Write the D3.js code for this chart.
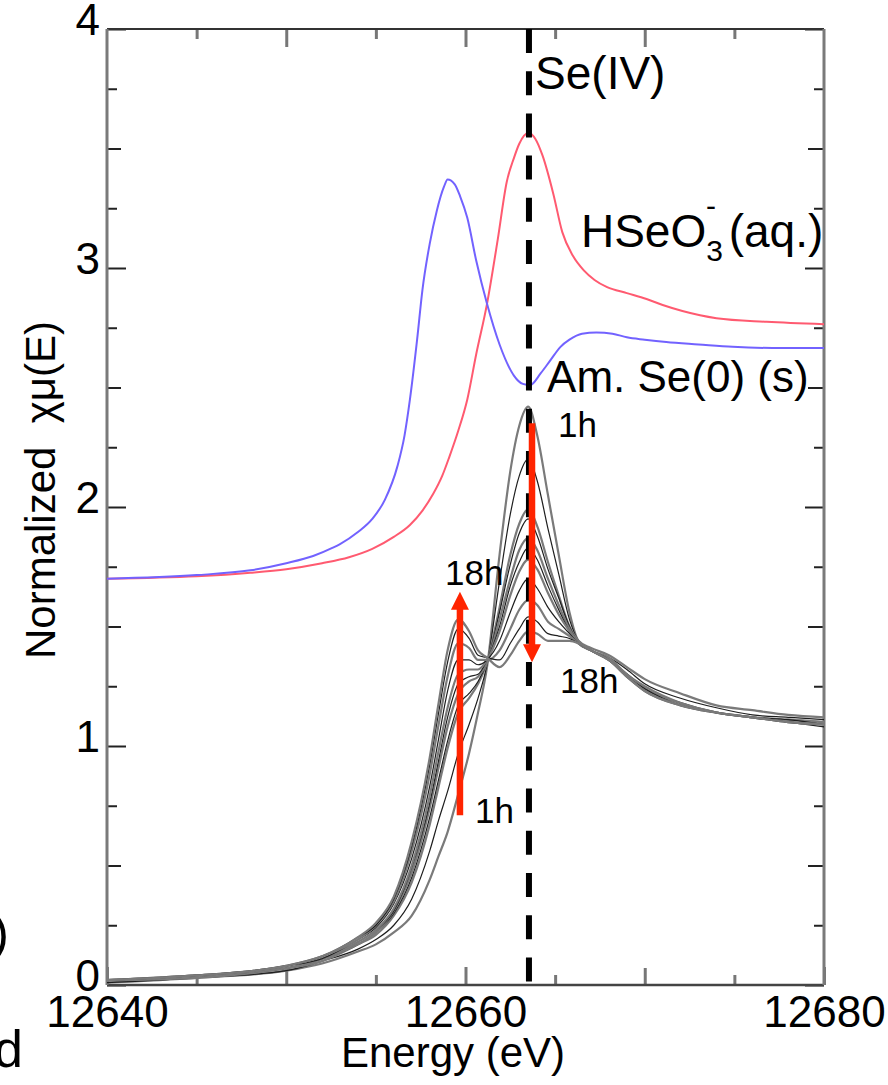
<!DOCTYPE html>
<html><head><meta charset="utf-8">
<script src="https://cdn.jsdelivr.net/npm/d3@7"></script>
<style>
body{margin:0;background:#fff}
svg{display:block}
text{font-family:"Liberation Sans",Arial,Helvetica,sans-serif;fill:#000}
</style>
</head><body><svg id="c" width="888" height="1085"></svg>
<script>
// ---------- data ----------
const xDomain = [12640, 12680];
const yDomain = [0, 4];
const xTickValues = [12640, 12660, 12680];
const xMidTicks = [12650, 12670];
const xMinorTicks = [12645, 12655, 12665, 12675];
const yTickValues = [0, 1, 2, 3, 4];
const yHalfTicks = [0.5, 1.5, 2.5, 3.5];
const yQuarterTicks = [0.25, 0.75, 1.25, 1.75, 2.25, 2.75, 3.25, 3.75];

// Am. Se(0) (s) reference (blue)
const seZeroEnergy = [12640, 12645, 12648, 12650, 12651.5, 12652.6, 12653.0, 12654.0, 12654.8, 12655.5, 12656.2, 12656.6, 12656.9, 12657.3, 12657.6, 12658.0, 12658.4, 12658.8, 12659.0, 12659.4, 12659.7, 12660.1, 12660.6, 12661.2, 12661.9, 12662.7, 12663.2, 12663.6, 12664.2, 12664.7, 12665.3, 12665.8, 12666.5, 12667.3, 12668.2, 12669.0, 12670.0, 12671.2, 12673.0, 12674.9, 12677.7, 12680];
const seZeroValues = [1.70, 1.715, 1.735, 1.765, 1.795, 1.83, 1.845, 1.895, 1.95, 2.03, 2.17, 2.30, 2.45, 2.70, 2.91, 3.10, 3.24, 3.34, 3.37, 3.35, 3.30, 3.21, 3.03, 2.85, 2.68, 2.55, 2.515, 2.51, 2.56, 2.61, 2.67, 2.70, 2.725, 2.73, 2.725, 2.71, 2.70, 2.69, 2.68, 2.67, 2.665, 2.665];

// HSeO3- (aq.) reference (red)
const hseo3Energy = [12640, 12645, 12648, 12650, 12652, 12653.5, 12654.8, 12656, 12656.9, 12657.6, 12658.2, 12658.7, 12659.1, 12659.6, 12660.1, 12660.6, 12661.2, 12661.8, 12662.3, 12662.7, 12663.0, 12663.5, 12663.9, 12664.3, 12664.9, 12665.4, 12666.0, 12666.6, 12667.2, 12667.9, 12669, 12670.1, 12671, 12672.1, 12674.0, 12676.8, 12680];
const hseo3Values = [1.70, 1.71, 1.725, 1.74, 1.765, 1.79, 1.825, 1.875, 1.925, 1.985, 2.055, 2.13, 2.21, 2.32, 2.45, 2.64, 2.85, 3.12, 3.36, 3.46, 3.52, 3.565, 3.54, 3.47, 3.31, 3.15, 3.05, 2.99, 2.95, 2.92, 2.895, 2.87, 2.845, 2.82, 2.79, 2.775, 2.765];

// time series 1h ... 18h (gray)
const timeEnergy = [12640, 12645, 12650, 12652, 12654, 12655, 12656, 12657, 12658, 12658.5, 12659, 12659.6, 12660.2, 12660.7, 12661.2, 12661.9, 12662.5, 12663, 12663.5, 12664, 12664.6, 12665.2, 12665.8, 12666.3, 12667, 12668, 12669, 12670, 12672, 12674, 12676, 12678, 12680];
const series1h  = [0.01,0.03,0.06,0.09,0.14,0.17,0.22,0.29,0.44,0.54,0.64,0.80,0.97,1.14,1.33,1.80,2.15,2.34,2.42,2.30,2.05,1.80,1.56,1.44,1.41,1.38,1.33,1.28,1.22,1.17,1.15,1.13,1.12];
const seriesT2  = [0.01,0.03,0.06,0.10,0.15,0.19,0.25,0.36,0.56,0.69,0.81,0.97,1.09,1.20,1.34,1.69,1.97,2.13,2.20,2.11,1.91,1.72,1.53,1.44,1.40,1.37,1.32,1.26,1.20,1.16,1.13,1.12,1.11];
const seriesT3  = [0.02,0.03,0.07,0.10,0.17,0.21,0.29,0.43,0.67,0.83,0.99,1.14,1.20,1.26,1.35,1.58,1.80,1.93,1.99,1.92,1.77,1.63,1.50,1.44,1.40,1.37,1.30,1.25,1.18,1.14,1.12,1.11,1.10];
const seriesT4  = [0.02,0.04,0.07,0.11,0.17,0.22,0.30,0.45,0.70,0.86,1.02,1.17,1.22,1.27,1.35,1.56,1.76,1.89,1.95,1.88,1.74,1.62,1.50,1.43,1.40,1.36,1.30,1.24,1.18,1.14,1.12,1.10,1.08];
const seriesT5  = [0.02,0.04,0.07,0.11,0.17,0.22,0.31,0.47,0.74,0.91,1.08,1.22,1.27,1.29,1.35,1.53,1.70,1.82,1.87,1.82,1.70,1.59,1.49,1.43,1.40,1.36,1.30,1.24,1.18,1.14,1.12,1.11,1.10];
const seriesT6  = [0.02,0.04,0.07,0.11,0.18,0.23,0.31,0.49,0.76,0.94,1.12,1.26,1.29,1.30,1.36,1.50,1.67,1.77,1.83,1.78,1.67,1.57,1.48,1.43,1.40,1.36,1.30,1.24,1.18,1.14,1.12,1.11,1.09];
const seriesT7  = [0.02,0.04,0.07,0.11,0.18,0.23,0.32,0.50,0.79,0.98,1.16,1.30,1.32,1.32,1.36,1.48,1.63,1.73,1.78,1.74,1.64,1.55,1.48,1.43,1.40,1.36,1.30,1.24,1.18,1.14,1.12,1.10,1.09];
const seriesT8  = [0.02,0.04,0.08,0.11,0.19,0.24,0.34,0.53,0.83,1.03,1.23,1.36,1.36,1.34,1.36,1.44,1.56,1.65,1.70,1.66,1.58,1.52,1.47,1.43,1.40,1.36,1.29,1.24,1.17,1.14,1.12,1.10,1.09];
const seriesT9  = [0.02,0.04,0.08,0.12,0.19,0.25,0.35,0.56,0.88,1.09,1.29,1.43,1.41,1.36,1.36,1.40,1.49,1.57,1.61,1.59,1.52,1.49,1.46,1.43,1.40,1.36,1.29,1.23,1.17,1.14,1.12,1.10,1.09];
const seriesT10 = [0.02,0.04,0.08,0.12,0.20,0.25,0.36,0.58,0.92,1.14,1.35,1.49,1.45,1.38,1.37,1.36,1.43,1.49,1.54,1.52,1.47,1.46,1.45,1.43,1.40,1.36,1.29,1.23,1.17,1.14,1.12,1.10,1.09];
const series18h = [0.02,0.04,0.08,0.12,0.20,0.26,0.37,0.60,0.95,1.18,1.40,1.53,1.48,1.40,1.37,1.33,1.38,1.44,1.48,1.47,1.44,1.44,1.44,1.43,1.40,1.36,1.29,1.23,1.17,1.14,1.12,1.10,1.09];
const timeSeries = [series1h, seriesT2, seriesT3, seriesT4, seriesT5, seriesT6, seriesT7, seriesT8, seriesT9, seriesT10, series18h];

// Se(IV) white line position
const seIVEnergy = 12663.54;

// arrows [energy, from, to]
const arrowUp = [12659.69, 0.71, 1.645];
const arrowDown = [12663.71, 2.35, 1.35];

// ---------- drawing ----------
const svg = d3.select("#c");
const x = d3.scaleLinear().domain(xDomain).range([107, 824]);
const y = d3.scaleLinear().domain(yDomain).range([985, 29]);

function tidy(g, color, w) {
  g.select(".domain").remove();
  g.selectAll(".tick line").attr("stroke", color).attr("stroke-width", w);
  g.selectAll(".tick text").attr("font-size", 44).attr("fill", "#000")
    .style("font-family", '"Liberation Sans",Arial,sans-serif');
}

// x axes (bottom, top)
svg.append("g").attr("transform", "translate(0,985)")
  .call(d3.axisBottom(x).tickValues(xMinorTicks).tickSize(-10).tickFormat(""))
  .call(g => tidy(g, "#777", 3));
svg.append("g").attr("transform", "translate(0,985)")
  .call(d3.axisBottom(x).tickValues(xMidTicks).tickSize(-17).tickFormat(""))
  .call(g => tidy(g, "#777", 3));
svg.append("g").attr("transform", "translate(0,985)")
  .call(d3.axisBottom(x).tickValues(xTickValues).tickSize(-18).tickPadding(11).tickFormat(d3.format("d")))
  .call(g => tidy(g, "#777", 3));
svg.append("g").attr("transform", "translate(0,29)")
  .call(d3.axisTop(x).tickValues(xMinorTicks).tickSize(-10).tickFormat(""))
  .call(g => tidy(g, "#777", 3));
svg.append("g").attr("transform", "translate(0,29)")
  .call(d3.axisTop(x).tickValues(xMidTicks.concat([12660])).tickSize(-18).tickFormat(""))
  .call(g => tidy(g, "#777", 3));

// y axes (left, right)
svg.append("g").attr("transform", "translate(107,0)")
  .call(d3.axisLeft(y).tickValues(yQuarterTicks).tickSize(-10).tickFormat(""))
  .call(g => tidy(g, "#222", 2));
svg.append("g").attr("transform", "translate(107,0)")
  .call(d3.axisLeft(y).tickValues(yHalfTicks).tickSize(-14).tickFormat(""))
  .call(g => tidy(g, "#222", 2));
svg.append("g").attr("transform", "translate(107,0)")
  .call(d3.axisLeft(y).tickValues(yTickValues).tickSize(-19).tickPadding(7).tickFormat(d3.format("d")))
  .call(g => { tidy(g, "#222", 2); g.selectAll(".tick text").attr("dy", "0.12em"); });
svg.append("g").attr("transform", "translate(824,0)")
  .call(d3.axisRight(y).tickValues(yQuarterTicks).tickSize(-10).tickFormat(""))
  .call(g => tidy(g, "#222", 2));
svg.append("g").attr("transform", "translate(824,0)")
  .call(d3.axisRight(y).tickValues(yHalfTicks).tickSize(-16).tickFormat(""))
  .call(g => tidy(g, "#222", 2));
svg.append("g").attr("transform", "translate(824,0)")
  .call(d3.axisRight(y).tickValues(yTickValues).tickSize(-19).tickFormat(""))
  .call(g => tidy(g, "#222", 2));

// frame
const [x0, x1] = x.range(), [yb, yt] = y.range();
svg.append("line").attr("x1", x0).attr("x2", x1).attr("y1", yt).attr("y2", yt).attr("stroke", "#333").attr("stroke-width", 2);
svg.append("line").attr("x1", x0).attr("x2", x1).attr("y1", yb).attr("y2", yb).attr("stroke", "#444").attr("stroke-width", 2.5);
svg.append("line").attr("x1", x0).attr("x2", x0).attr("y1", yt).attr("y2", yb).attr("stroke", "#7a7a7a").attr("stroke-width", 3);
svg.append("line").attr("x1", x1).attr("x2", x1).attr("y1", yt).attr("y2", yb).attr("stroke", "#7a7a7a").attr("stroke-width", 3);

// curves
const line = d3.line().x(d => x(d[0])).y(d => y(d[1])).curve(d3.curveMonotoneX);
const grayG = svg.append("g").attr("fill", "none");
timeSeries.forEach((vals, i) => {
  grayG.append("path")
    .attr("d", line(timeEnergy.map((e, k) => [e, vals[k]])))
    .attr("stroke", i % 2 === 0 ? "#7a7a7a" : "#1e1e1e")
    .attr("stroke-width", i % 2 === 0 ? 2.2 : 1.2)
    .attr("stroke-linejoin", "round");
});
svg.append("path").attr("fill", "none").attr("stroke", "#ff5a70").attr("stroke-width", 2)
  .attr("d", line(hseo3Energy.map((e, k) => [e, hseo3Values[k]])));
svg.append("path").attr("fill", "none").attr("stroke", "#7262ff").attr("stroke-width", 2)
  .attr("d", line(seZeroEnergy.map((e, k) => [e, seZeroValues[k]])));

// dashed Se(IV) line
svg.append("line")
  .attr("x1", x(seIVEnergy)).attr("x2", x(seIVEnergy))
  .attr("y1", y(4)).attr("y2", y(0))
  .attr("stroke", "#000").attr("stroke-width", 6).attr("stroke-dasharray", "24,18.2");

// arrows
function arrow([e, v0, v1]) {
  const xs = x(e), ys = y(v0), ye = y(v1);
  const dir = Math.sign(ye - ys);
  svg.append("line").attr("x1", xs).attr("x2", xs).attr("y1", ys).attr("y2", ye - dir * 14)
    .attr("stroke", "#ff2400").attr("stroke-width", 6.5);
  svg.append("path").attr("fill", "#ff2400")
    .attr("d", `M${xs},${ye} L${xs - 9},${ye - dir * 18} L${xs + 9},${ye - dir * 18} Z`);
}
arrow(arrowUp);
arrow(arrowDown);

// annotations
function label(txt, e, v, size) {
  return svg.append("text").attr("x", x(e)).attr("y", y(v)).attr("font-size", size).text(txt);
}
label("Se(IV)", 12663.88, 3.749, 46);
label("Am. Se(0) (s)", 12664.55, 2.481, 44);
label("1h", 12665.16, 2.293, 35);
label("18h", 12658.86, 1.674, 35);
label("18h", 12665.27, 1.222, 35);
label("1h", 12660.53, 0.678, 35);
const hs = svg.append("text").attr("x", x(12666.44)).attr("y", y(3.088)).attr("font-size", 46);
hs.append("tspan").text("HSeO");
hs.append("tspan").attr("font-size", 30).attr("dy", 14).text("3");
hs.append("tspan").attr("font-size", 30).attr("dx", -17).attr("dy", -45).text("-");
hs.append("tspan").attr("dy", 31).text("\u00A0(aq.)");

// axis titles
svg.append("text").attr("x", 453).attr("y", 1067).attr("text-anchor", "middle").attr("font-size", 42).text("Energy (eV)");
svg.append("text").attr("transform", "translate(55,490) rotate(-90)").attr("text-anchor", "middle")
  .attr("font-size", 42).text("Normalized\u00A0 \u03C7\u03BC(E)");

// clipped neighbour-panel remnants at the left edge
svg.append("text").attr("x", 9).attr("y", 950).attr("text-anchor", "end").attr("font-size", 50).text(")");
svg.append("text").attr("x", 23).attr("y", 1067).attr("text-anchor", "end").attr("font-size", 52).text("d");
</script></body></html>
